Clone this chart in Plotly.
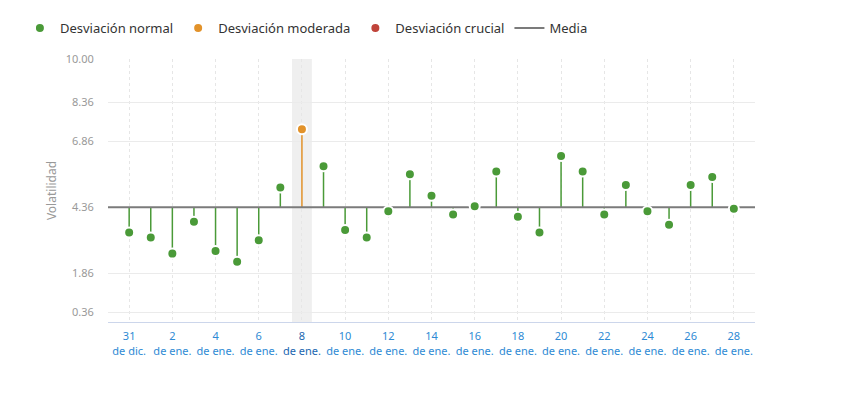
import plotly.graph_objects as go

# ---- data ----
day_labels = ["31<br>de dic."] + [f"{d}<br>de ene." for d in range(1, 29)]
volatility = [3.40, 3.21, 2.60, 3.81, 2.70, 2.29, 3.11, 5.11, 7.33, 5.92,
              3.50, 3.21, 4.21, 5.62, 4.80, 4.09, 4.40, 5.72, 4.00, 3.40,
              6.31, 5.72, 4.09, 5.21, 4.21, 3.70, 5.21, 5.51, 4.31]
category = ["normal"] * 8 + ["moderada"] + ["normal"] * 20
mean_value = 4.36
y_ticks = [0.36, 1.86, 4.36, 6.86, 8.36, 10.00]
highlight_index = 8

# ---- styles ----
GREEN = "#4a9a38"
ORANGE = "#e2922a"
RED = "#c0443a"
MEAN_C = "#7b7b7b"
FONT = "Noto Sans"

x = list(range(len(volatility)))
x_range = [-0.98, len(volatility) - 0.02]

fig = go.Figure()

# highlight band
fig.add_shape(type="rect", xref="x", yref="y", x0=highlight_index - 0.46, x1=highlight_index + 0.46,
              y0=0, y1=10, fillcolor="#efefef", line_width=0, layer="below")

# stems
for cat, col in [("normal", GREEN), ("moderada", ORANGE)]:
    sx, sy = [], []
    for xi, v, c in zip(x, volatility, category):
        if c == cat:
            sx += [xi, xi, None]
            sy += [mean_value, v, None]
    fig.add_trace(go.Scatter(x=sx, y=sy, mode="lines", line=dict(color=col, width=1.5),
                             showlegend=False, hoverinfo="skip"))

# mean line
fig.add_trace(go.Scatter(x=x_range, y=[mean_value, mean_value], mode="lines",
                         line=dict(color=MEAN_C, width=2), name="Media", legendrank=4))

# markers
for cat, col, name, rank in [("normal", GREEN, "Desviación normal", 1),
                             ("moderada", ORANGE, "Desviación moderada", 2),
                             ("crucial", RED, "Desviación crucial", 3)]:
    px = [xi for xi, c in zip(x, category) if c == cat]
    py = [v for v, c in zip(volatility, category) if c == cat]
    if not px:
        px, py = [None], [None]
    fig.add_trace(go.Scatter(x=px, y=py, mode="markers", name=name, legendrank=rank,
                             marker=dict(color=col, size=10, line=dict(color="white", width=2))))

ticktext = []
for i in range(0, len(day_labels), 2):
    lab = day_labels[i]
    if i == highlight_index:
        lab = lab.replace("<br>", "</span><br><span style='color:#1a66b0'>")
        lab = "<span style='color:#1a66b0'>" + lab + "</span>"
    ticktext.append(lab)

fig.update_layout(
    width=850, height=397,
    margin=dict(l=100, r=103, t=51, b=83, autoexpand=False),
    paper_bgcolor="white", plot_bgcolor="white",
    font=dict(family=FONT, size=11, color="#999999"),
    legend=dict(orientation="h", xref="container", yref="container", x=0.014, y=0.987,
                xanchor="left", yanchor="top", font=dict(size=13, color="#333333"),
                traceorder="normal", itemwidth=30),
    xaxis=dict(range=x_range, tickmode="array", tickvals=list(range(0, len(day_labels), 2)),
               ticktext=ticktext, tickfont=dict(color="#2e8ad4", size=11),
               showgrid=True, gridcolor="#e6e6e6", griddash="3px,3px", gridwidth=1,
               showline=True, linecolor="#ccd6eb", linewidth=1, zeroline=False,
               ticks="outside", ticklen=4, tickcolor="rgba(0,0,0,0)"),
    yaxis=dict(range=[0, 10], tickmode="array", tickvals=y_ticks,
               ticktext=[f"{v:.2f}" for v in y_ticks],
               showgrid=True, gridcolor="#ebebeb", zeroline=False,
               ticks="outside", ticklen=11, tickcolor="rgba(0,0,0,0)",
               title=dict(text="Volatilidad", font=dict(size=12, color="#999999"), standoff=6)),
    showlegend=True,
)

fig.write_html("out.html")
